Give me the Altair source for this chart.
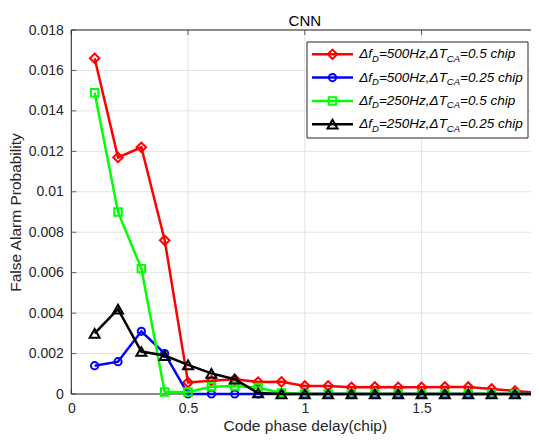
import altair as alt
import pandas as pd

# 横轴: 码相位延迟 (chip)
x_vals = [0.1, 0.2, 0.3, 0.4, 0.5, 0.6, 0.7, 0.8, 0.9, 1.0,
          1.1, 1.2, 1.3, 1.4, 1.5, 1.6, 1.7, 1.8, 1.9, 2.0]

# 各曲线虚警概率
pfa_500_05 = [0.0166, 0.0117, 0.0122, 0.0076, 0.00057, 0.00066, 0.00073, 0.00059, 0.0006, 0.0004,
              0.0004, 0.00033, 0.00035, 0.00033, 0.00033, 0.00035, 0.00035, 0.00025, 0.00015, 0.00005]
pfa_500_025 = [0.0014, 0.0016, 0.0031, 0.002, 0.0, 0.0, 0.0, 0.0, 0.0, 0.0,
               0.0, 0.0, 0.0, 0.0, 0.0, 0.0, 0.0, 0.0, 0.0, 0.0]
pfa_250_05 = [0.0149, 0.009, 0.0062, 0.0001, 0.0001, 0.00036, 0.0004, 0.00032, 0.00005, 0.0,
              0.0, 0.0, 0.0, 0.0, 0.0, 0.0, 0.0, 0.0, 0.0, 0.0]
pfa_250_025 = [0.003, 0.0042, 0.0021, 0.0019, 0.00144, 0.00102, 0.00073, 0.00005, 0.0, 0.0,
               0.0, 0.0, 0.0, 0.0, 0.0, 0.0, 0.0, 0.0, 0.0, 0.0]

series_values = [pfa_500_05, pfa_500_025, pfa_250_05, pfa_250_025]
legend_fd = ["500Hz", "500Hz", "250Hz", "250Hz"]
legend_tca = ["0.5", "0.25", "0.5", "0.25"]
title_text = "CNN"

x_ticks = [0, 0.5, 1, 1.5, 2]
y_ticks = [0, 0.002, 0.004, 0.006, 0.008, 0.01, 0.012, 0.014, 0.016, 0.018]

# 样式
colors = ["#ff0000", "#0000ff", "#00ff00", "#000000"]
shapes = ["diamond", "circle", "square", "triangle-up"]
sizes = [90, 52, 56, 100]

FONT = "Liberation Sans"
AX = "#262626"
GRID = "#e3e3e3"
PAD_L, PAD_T, SVG_W, SVG_H = 63.3, 22, 523, 428
PLOT_H = 364
VIEW_W = SVG_W - PAD_L          # 可见部分 (原图右侧被裁掉)
AXIS_W = 467                    # x 轴 0..2 的实际长度

x_scale = alt.Scale(domain=[0, 2], nice=False, zero=False, range=[0, AXIS_W])
y_scale = alt.Scale(domain=[0, 0.018], nice=False)

X_AXIS = alt.Axis(values=x_ticks, format="~g", ticks=False, domain=False, grid=False,
                  labelFontSize=14, labelColor=AX, labelPadding=7, labelFlush=False,
                  titleFontSize=15.5, titleColor=AX, titleFontWeight="normal", titlePadding=3)
Y_AXIS = alt.Axis(values=y_ticks, format="~g", ticks=False, domain=False, grid=False,
                  labelFontSize=14, labelColor=AX, labelPadding=8, labelFlush=False,
                  titleFontSize=15.5, titleColor=AX, titleFontWeight="normal", titlePadding=5)


def xenc(field):
    return alt.X(field, scale=x_scale, axis=X_AXIS, title="Code phase delay(chip)")


def yenc(field):
    return alt.Y(field, scale=y_scale, axis=Y_AXIS, title="False Alarm Probability")


xt_df = pd.DataFrame({"v": x_ticks})
yt_df = pd.DataFrame({"v": y_ticks})
one = pd.DataFrame({"k": [0]})

layers = []

# 网格线
layers.append(alt.Chart(xt_df).mark_rule(color=GRID, strokeWidth=1).encode(x=xenc("v:Q")))
layers.append(alt.Chart(yt_df).mark_rule(color=GRID, strokeWidth=1).encode(y=yenc("v:Q")))

# 边框 (左, 上, 下)
layers.append(alt.Chart(one).mark_rule(color=AX, strokeWidth=1).encode(
    x=alt.value(0), y=alt.value(0), y2=alt.value(PLOT_H)))
for yv in [0, PLOT_H]:
    layers.append(alt.Chart(one).mark_rule(color=AX, strokeWidth=1).encode(
        x=alt.value(0), x2=alt.value(AXIS_W), y=alt.value(yv)))

# 内向刻度 (MATLAB 风格)
for yv in [PLOT_H - 2.5, 2.5]:
    layers.append(alt.Chart(xt_df).mark_tick(orient="vertical", size=5, thickness=1, color=AX).encode(
        x=xenc("v:Q"), y=alt.value(yv)))
layers.append(alt.Chart(yt_df).mark_tick(orient="horizontal", size=5, thickness=1, color=AX).encode(
    y=yenc("v:Q"), x=alt.value(2.5)))

# 数据曲线
for i, vals in enumerate(series_values):
    df = pd.DataFrame({"x": x_vals, "y": vals})
    base = alt.Chart(df).encode(x=xenc("x:Q"), y=yenc("y:Q"))
    layers.append(base.mark_line(color=colors[i], strokeWidth=2.5))
    layers.append(base.mark_point(shape=shapes[i], size=sizes[i], filled=False,
                                  color=colors[i], strokeWidth=2, opacity=1))

# 标题 (居中于完整 x 轴之上)
layers.append(alt.Chart(pd.DataFrame({"t": [title_text]})).mark_text(
    align="center", baseline="alphabetic", fontSize=15, font=FONT, color="#000000"
).encode(text="t:N", x=alt.value(AXIS_W / 2), y=alt.value(-4)))

# 图例 (手工绘制, 支持下标)
LEG_X1, LEG_X2, LEG_Y1, LEG_Y2 = 235.7, 456.7, 12, 108
LEG_Y0, LEG_DY = 24.3, 23.3
LINE_A, LINE_B, MARK_X, TEXT_X = 240.7, 281.7, 261.2, 288
MAIN_FS, SUB_FS, SUB_DY = 13.5, 9.5, 4.5

char_w = {"Δ": 0.667, "f": 0.278, "D": 0.722, "=": 0.584, "0": 0.556, "2": 0.556, "5": 0.556,
          "H": 0.722, "z": 0.5, ",": 0.278, "T": 0.611, "C": 0.722, "A": 0.667, ".": 0.278,
          " ": 0.278, "c": 0.5, "h": 0.556, "i": 0.222, "p": 0.556}


def text_w(s, fs):
    return sum(char_w.get(c, 0.556) for c in s) * fs


layers.append(alt.Chart(one).mark_rect(fill="white", stroke=AX, strokeWidth=1).encode(
    x=alt.value(LEG_X1), x2=alt.value(LEG_X2), y=alt.value(LEG_Y1), y2=alt.value(LEG_Y2)))

for i in range(4):
    yc = LEG_Y0 + i * LEG_DY
    layers.append(alt.Chart(one).mark_rule(color=colors[i], strokeWidth=2.5).encode(
        x=alt.value(LINE_A), x2=alt.value(LINE_B), y=alt.value(yc)))
    layers.append(alt.Chart(one).mark_point(shape=shapes[i], size=sizes[i], filled=False,
                                            color=colors[i], strokeWidth=2, opacity=1).encode(
        x=alt.value(MARK_X), y=alt.value(yc)))
    segs = [("Δf", False), ("D", True), ("=" + legend_fd[i] + ",ΔT", False), ("CA", True),
            ("=" + legend_tca[i] + " chip", False)]
    xpos = TEXT_X
    for s, sub in segs:
        fs = SUB_FS if sub else MAIN_FS
        layers.append(alt.Chart(pd.DataFrame({"t": [s]})).mark_text(
            align="left", baseline="middle", fontSize=fs, fontStyle="italic", font=FONT, color="#000000"
        ).encode(text="t:N", x=alt.value(xpos), y=alt.value(yc + (SUB_DY if sub else 0))))
        xpos += text_w(s, fs)

chart = alt.layer(*layers).properties(
    width=VIEW_W,
    height=PLOT_H,
    autosize=alt.AutoSizeParams(type="none"),
    padding={"left": PAD_L, "top": PAD_T, "right": 0, "bottom": SVG_H - PAD_T - PLOT_H},
).configure(font=FONT).configure_view(stroke=None)

chart.save("out.html", embed_options={"renderer": "svg", "actions": False})
